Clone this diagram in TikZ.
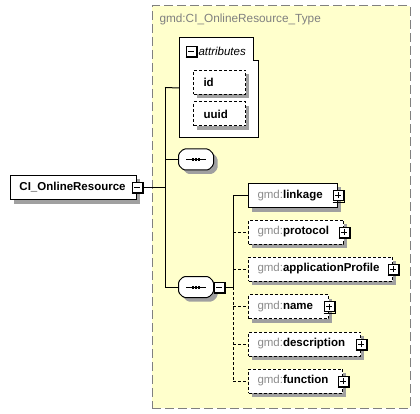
\documentclass[tikz,border=0pt]{standalone}
\usepackage{fontspec}
\setmainfont{Liberation Sans}
\definecolor{bgyellow}{RGB}{255,255,204}
\definecolor{shdw}{RGB}{160,160,160}
\definecolor{titlegray}{RGB}{128,128,128}
\definecolor{gmdgray}{RGB}{140,140,140}
\newcommand\gmdname[1]{\textcolor{gmdgray}{gmd:}\textbf{#1}}
\newcommand\seqoutline[2]{% #1 node name, #2 offset
  ([shift={(#2+5,#2)}]#1.north west) -- ([shift={(#2-5,#2)}]#1.north east) --
  ([shift={(#2,#2+5)}]#1.north east) -- ([shift={(#2,#2-5)}]#1.south east) --
  ([shift={(#2-5,#2)}]#1.south east) -- ([shift={(#2+5,#2)}]#1.south west) --
  ([shift={(#2,#2-5)}]#1.south west) -- ([shift={(#2,#2+5)}]#1.north west) -- cycle}
\begin{document}
\begin{tikzpicture}[x=1pt,y=-1pt, line width=1pt,
  every node/.style={font=\fontsize{11.5}{13}\selectfont},
  elem/.style={draw, fill=white, rectangle, anchor=west, minimum height=24pt, inner xsep=9pt, inner ysep=0pt, align=left},
  optional/.style={dash pattern=on 3pt off 2pt},
  pmbox/.style={draw, fill=white, rectangle, minimum size=10pt, inner sep=0pt, line width=1pt},
  plusbox/.style={pmbox, path picture={\draw[line width=1pt] ([xshift=-3pt]path picture bounding box.center) -- ([xshift=3pt]path picture bounding box.center) ([yshift=-3pt]path picture bounding box.center) -- ([yshift=3pt]path picture bounding box.center);}},
  minusbox/.style={pmbox, path picture={\draw[line width=1pt] ([xshift=-3pt]path picture bounding box.center) -- ([xshift=3pt]path picture bounding box.center);}},
  seqbox/.style={rectangle, minimum width=34pt, minimum height=20pt, inner sep=0pt},
  conn/.style={line width=1pt},
  optconn/.style={line width=1pt, dash pattern=on 3pt off 2pt}
]
\useasboundingbox (0,0) rectangle (420,414);

% type container
\node[draw=titlegray, fill=bgyellow, dash pattern=on 9pt off 4pt, anchor=north west, minimum width=258pt, minimum height=402pt, inner sep=0pt] (type) at (151.5,5.5) {};
\node[anchor=west, text=titlegray, inner sep=0pt, font=\fontsize{11.8}{13}\selectfont] (title) at (159,19) {gmd:CI\_OnlineResource\_Type};

% shadows (drawn first, behind the boxes)
\fill[shdw] (14,179.5) rectangle (140,203.5);  % CI_OnlineResource
\fill[shdw] (252,187.5) rectangle (341,211.5); % linkage
\fill[shdw] (252,224) rectangle (347,248);     % protocol
\fill[shdw] (252,261) rectangle (396,285);     % applicationProfile
\fill[shdw] (252,298.5) rectangle (332,322.5); % name
\fill[shdw] (252,336) rectangle (364,360);     % description
\fill[shdw] (252,373) rectangle (346,397);     % function
\node[seqbox] (seq1) at (196,159.5) {};
\node[seqbox] (seq2) at (196,287) {};
\foreach \s in {seq1,seq2}
  \fill[shdw, rounded corners=1.5pt] \seqoutline{\s}{4};

% attributes box
\node[anchor=north west, minimum width=78pt, minimum height=99pt, inner sep=0pt] (attr) at (179,38) {};
\draw[fill=white] (attr.north west) -- ([shift={(-5,0)}]attr.north east) -- ([shift={(-5,23)}]attr.north east) -- ([shift={(0,23)}]attr.north east) -- (attr.south east) -- (attr.south west) -- cycle;
\fill[shdw] (197,74.5) rectangle (249,98.5);
\fill[shdw] (197,106) rectangle (249,130);
\node[anchor=west, inner sep=0pt, font=\fontsize{11.5}{13}\selectfont\itshape] (attrlbl) at (198,51.5) {attributes};
\node[elem, optional, inner xsep=10pt, text width=32pt] (id) at (193,82.5) {\textbf{id}};
\node[elem, optional, inner xsep=10pt, text width=32pt] (uuid) at (193,114) {\textbf{uuid}};

% root element
\node[elem, text width=108pt] (ci) at (10,187.5) {\textbf{CI\_OnlineResource}};

% sequences
\foreach \s in {seq1,seq2}{
  \draw[fill=white, rounded corners=1.5pt] \seqoutline{\s}{0};
  \draw[line width=1pt] ([xshift=-10pt]\s.center) -- ([xshift=10pt]\s.center);
  \foreach \dx in {-3,0,3}
    \fill ([shift={(\dx-1,-1.5)}]\s.center) rectangle ++(2,3);
}

% child elements
\node[elem, text width=71pt] (linkage) at (248,195.5) {\gmdname{linkage}};
\node[elem, optional, text width=77pt] (protocol) at (248,232) {\gmdname{protocol}};
\node[elem, optional, text width=126pt] (appprof) at (248,269) {\gmdname{applicationProfile}};
\node[elem, optional, text width=62pt] (name) at (248,306.5) {\gmdname{name}};
\node[elem, optional, text width=94pt] (descr) at (248,344) {\gmdname{description}};
\node[elem, optional, text width=76pt] (func) at (248,381) {\gmdname{function}};

% expand/collapse buttons
\node[minusbox] (attrm) at (191,51.5) {};
\node[minusbox] (cim) at (ci.east) {};
\node[minusbox] (seq2m) at (219,287) {};
\foreach \e in {linkage,protocol,appprof,name,descr,func}
  \node[plusbox] (\e p) at (\e.east) {};
\foreach \b in {attrm,cim,seq2m,linkagep,protocolp,appprofp,namep,descrp,funcp}
  \draw[line width=1pt] ([shift={(0,1)}]\b.south west) -- ([shift={(1,1)}]\b.south east) -- ([shift={(1,0)}]\b.north east);

% connectors: first trunk
\coordinate (t1) at (165,87.5);
\coordinate (t2) at (165,159.5);
\coordinate (t3) at (165,187.5);
\coordinate (t4) at (165,287);
\draw[conn] (t1) -- (t4);
\draw[conn] (t1) -- (attr.west);
\draw[conn] (t2) -- (seq1.west);
\draw[conn] (cim.east) -- (t3);
\draw[conn] (t4) -- (seq2.west);

% second trunk
\coordinate (b0) at (233,195.5);
\coordinate (b1) at (233,287);
\coordinate (b2) at (233,381);
\draw[conn] (seq2m.east) -- (b1);
\draw[conn] (b0) -- (b1);
\draw[optconn] (b1) -- (b2);
\draw[conn] (b0) -- (linkage.west);
\foreach \e in {protocol,appprof,name,descr,func}
  \draw[optconn] (b0 |- \e.west) -- (\e.west);
\end{tikzpicture}
\end{document}
